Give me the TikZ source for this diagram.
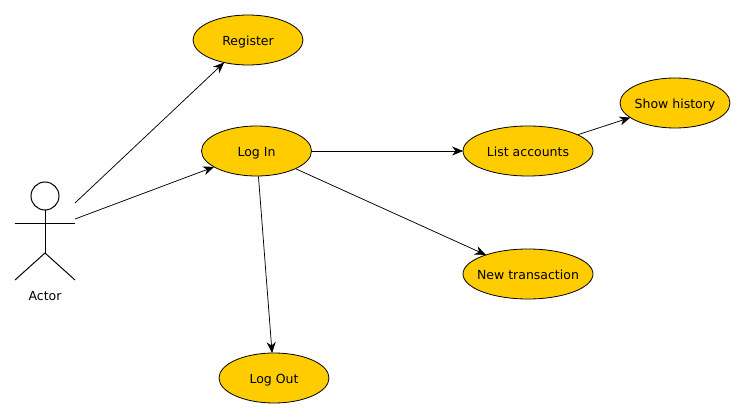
\documentclass[tikz,border=0pt]{standalone}
\usepackage{fontspec}
\setmainfont{DejaVu Sans}
\usetikzlibrary{arrows.meta,shapes.geometric}
\definecolor{usecasefill}{RGB}{255,204,0}
\newcommand{\uctext}[1]{\raisebox{-5.2pt}[0pt][0pt]{\makebox[0pt][c]{#1}}}
\tikzset{
  usecase/.style={ellipse,draw=black,fill=usecasefill,line width=0.8pt,inner sep=0pt,minimum width=110pt,minimum height=50pt,font=\fontsize{12.5}{14}\selectfont,text=black},
  widecase/.style={usecase,minimum width=130pt},
  link/.style={draw=black,line width=0.75pt,-{Stealth[length=11pt,width=9pt,inset=3.5pt]},shorten >=-0.5pt},
  stick/.style={draw=black,line width=1pt},
  caption/.style={font=\fontsize{12.5}{14}\selectfont,text=black,inner sep=0pt}
}
\begin{document}
\begin{tikzpicture}[x=1pt,y=-1pt]
\useasboundingbox (0,0) rectangle (745,417);
\node[usecase] (register) at (248,40) {\uctext{Register}};
\node[usecase] (login) at (256.5,151) {\uctext{Log In}};
\node[widecase] (list) at (528,151) {\uctext{List accounts}};
\node[usecase] (history) at (675,103) {\uctext{Show history}};
\node[widecase] (new) at (528,274) {\uctext{New transaction}};
\node[usecase] (logout) at (274,378) {\uctext{Log Out}};
% actor
\node[circle,stick,inner sep=0pt,minimum size=28pt] (head) at (45,196) {};
\coordinate (hip) at (45,253);
\coordinate (armL) at (15,224);
\coordinate (armR) at (75,224);
\coordinate (footL) at (15,280);
\coordinate (footR) at (75,280);
\draw[stick] (head.south) -- (hip);
\draw[stick] (armL) -- (armR);
\draw[stick] (footL) -- (hip) -- (footR);
\node[caption] (actor) at (45,296) {Actor};
\coordinate (a1) at (75,203);
\coordinate (a2) at (75,219);
\draw[link] (a1) -- (register);
\draw[link] (a2) -- (login);
\draw[link] (login) -- (list);
\draw[link] (login) -- (new);
\draw[link] (login) -- (logout);
\draw[link] (list) -- (history);
\end{tikzpicture}
\end{document}
